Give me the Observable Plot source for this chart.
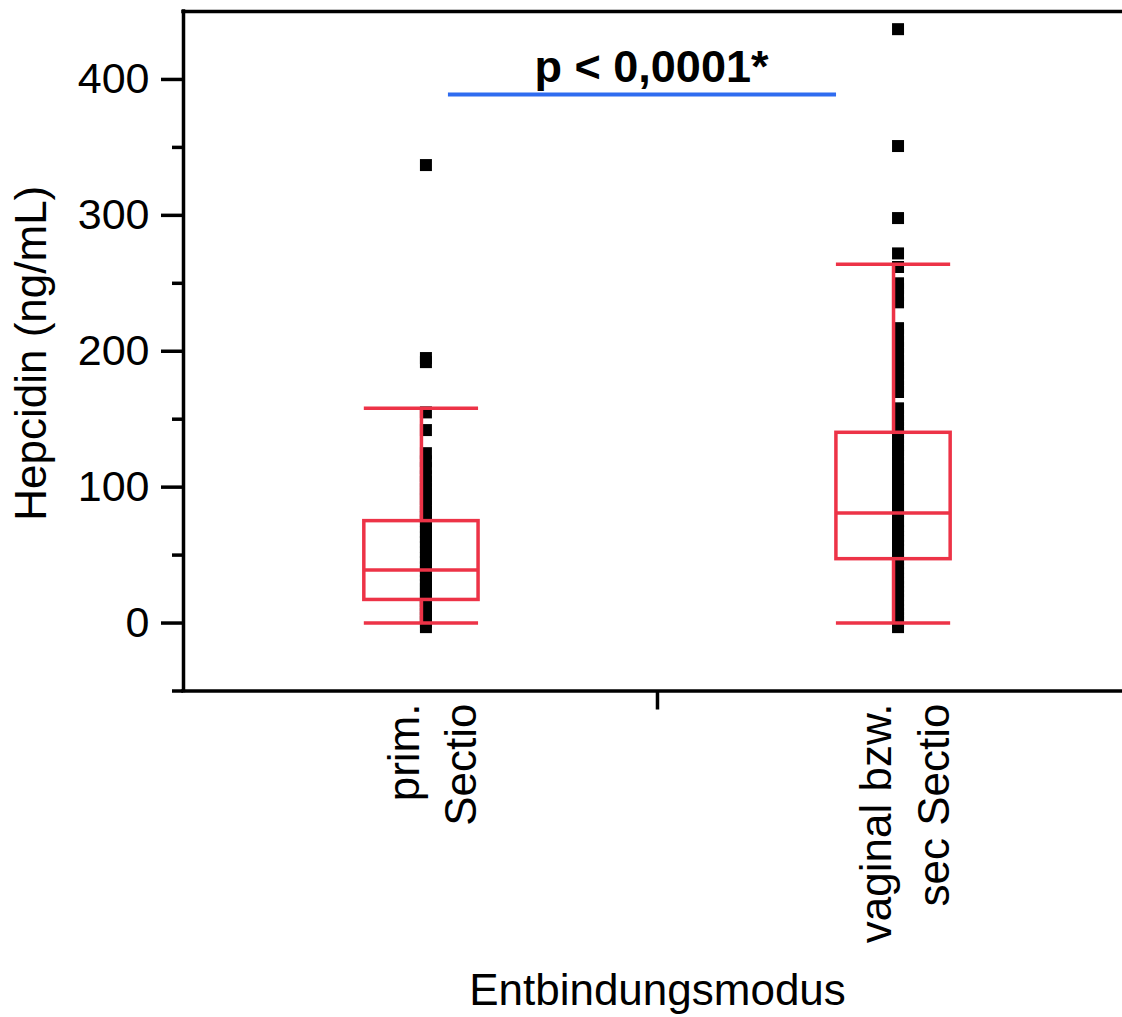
<!DOCTYPE html>
<html>
<head>
<meta charset="utf-8">
<script src="https://cdn.jsdelivr.net/npm/d3@7"></script>
<script src="https://cdn.jsdelivr.net/npm/@observablehq/plot@0.6"></script>
<style>
  html, body { margin: 0; padding: 0; background: #fff; }
  #chart svg { display: block; }
</style>
</head>
<body>
<div id="chart"></div>
<script>
// ---- data ----
const categories = ["prim.\nSectio", "vaginal bzw.\nsec Sectio"];
const xTitle = "Entbindungsmodus";
const yTitle = "Hepcidin (ng/mL)";
const pLabel = "p < 0,0001*";

const primValues = [337, 195, 192, 155, 142,
  125, 119, 114, 108, 104, 99, 95, 91, 86, 82, 78, 75, 71, 67, 63, 60, 56, 52,
  48, 45, 41, 38, 35, 31, 28, 25, 22, 19, 16, 13, 10, 7, 4, 1, -3];
const vagValues = [437, 351, 298, 272, 262,
  250, 246, 241, 236,
  217, 212, 207, 203, 198, 193, 188, 184, 179, 174, 170,
  158, 153, 149, 144, 140, 136, 131, 127, 123, 118, 114, 110, 106, 102, 98, 94,
  90, 86, 82, 79, 75, 71, 68, 64, 61, 57, 54, 50, 47, 44, 40, 37, 33, 30, 27,
  23, 20, 17, 13, 10, 7, 4, 1, -3];

const whiskerLow = [0, 0];
const q1 = [17, 47];
const medians = [39, 81];
const q3 = [75, 140];
const whiskerHigh = [158, 264];

const yTicks = [0, 100, 200, 300, 400];
const yMinorTicks = [-50, 50, 150, 250, 350];
const sigLevel = 389; // height of the comparison bar (ng/mL)

// ---- derived tables ----
const groupValues = [primValues, vagValues];
const points = categories.flatMap((c, k) => groupValues[k].map(v => ({i: k + 1, v})));
const stats = categories.map((c, k) => ({
  i: k + 1, name: c, lo: whiskerLow[k], q1: q1[k], med: medians[k], q3: q3[k], hi: whiskerHigh[k]
}));
const mid = (1 + categories.length) / 2;

// ---- styles ----
const red = "#ed3347";
const blue = "#2f6cf0";
const boxHalf = 0.121;
const lw = 3.5;
const xDomain = [0.496, 2.485];
const yDomain = [-50, 450];

const chart = Plot.plot({
  width: 1122,
  height: 1017,
  marginLeft: 183,
  marginRight: 0,
  marginTop: 11,
  marginBottom: 326.5,
  style: {fontFamily: "'Liberation Sans', Arial, Helvetica, sans-serif", color: "black", background: "white"},
  x: {type: "linear", domain: xDomain, axis: null},
  y: {domain: yDomain, axis: null},
  marks: [
    // data points
    Plot.dot(points, {x: "i", y: "v", symbol: "square", r: 6.77, fill: "black", stroke: null, dx: 4.5}),
    // box plot (red)
    Plot.rect(stats, {x1: d => d.i - boxHalf, x2: d => d.i + boxHalf, y1: "q1", y2: "q3", fill: "none", stroke: red, strokeWidth: lw}),
    Plot.ruleY(stats, {y: "med", x1: d => d.i - boxHalf, x2: d => d.i + boxHalf, stroke: red, strokeWidth: lw}),
    Plot.ruleY(stats, {y: "hi", x1: d => d.i - boxHalf, x2: d => d.i + boxHalf, stroke: red, strokeWidth: lw}),
    Plot.ruleY(stats, {y: "lo", x1: d => d.i - boxHalf, x2: d => d.i + boxHalf, stroke: red, strokeWidth: lw}),
    Plot.ruleX(stats, {x: "i", y1: "q3", y2: "hi", stroke: red, strokeWidth: lw}),
    Plot.ruleX(stats, {x: "i", y1: "lo", y2: "q1", stroke: red, strokeWidth: lw}),
    // significance bar
    Plot.ruleY([sigLevel], {x1: 1, x2: 2, insetLeft: 27, insetRight: 57, stroke: blue, strokeWidth: 4}),
    Plot.text([pLabel], {x: mid, y: sigLevel, dy: -12, dx: -6, lineAnchor: "bottom", fontWeight: "bold", fontSize: 45}),
    // spines
    Plot.ruleX([xDomain[0]], {stroke: "black", strokeWidth: lw, strokeLinecap: "square"}),
    Plot.ruleY([yDomain[0], yDomain[1]], {stroke: "black", strokeWidth: lw, strokeLinecap: "square"}),
    // axes
    Plot.axisY(yTicks, {tickSize: 22, tickPadding: 12, fontSize: 43, strokeWidth: lw, label: null}),
    Plot.axisY(yMinorTicks, {tickSize: 11, fill: "none", strokeWidth: lw, label: null}),
    Plot.axisX([mid], {tickSize: 19, fill: "none", strokeWidth: lw, label: null}),
    // category labels
    Plot.text(stats, {x: "i", y: () => yDomain[0], text: "name", rotate: -90, textAnchor: "end",
      lineAnchor: "bottom", lineHeight: 1.3, dx: 55, dy: 12.5, fontSize: 44}),
    // axis titles
    Plot.text([xTitle], {x: mid, y: () => yDomain[0], dy: 314, lineAnchor: "bottom", fontSize: 44}),
    Plot.text([yTitle], {frameAnchor: "left", rotate: -90, textAnchor: "middle", lineAnchor: "bottom", dx: -138, dy: 2, fontSize: 44})
  ]
});
document.getElementById("chart").appendChild(chart);
</script>
</body>
</html>
